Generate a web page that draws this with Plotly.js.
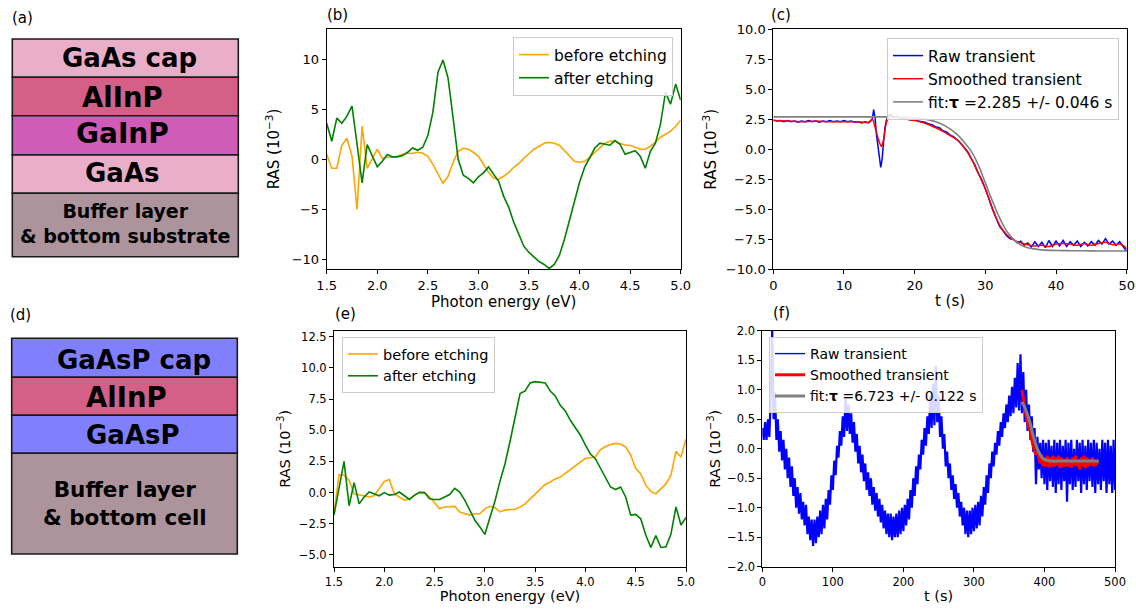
<!DOCTYPE html>
<html><head><meta charset="utf-8">
<script src="https://cdn.plot.ly/plotly-3.0.1.min.js"></script>
<style>html,body{margin:0;padding:0;background:#fff}#chart{width:1136px;height:610px}</style>
</head><body><div id="chart"></div>
<script>
// ---------------- DATA ----------------
const energy = [1.50,1.55,1.60,1.65,1.70,1.75,1.80,1.85,1.90,1.95,2.00,2.05,2.10,2.15,2.20,2.25,2.30,2.35,2.40,2.45,2.50,2.55,2.60,2.65,2.70,2.75,2.80,2.85,2.90,2.95,3.00,3.05,3.10,3.15,3.20,3.25,3.30,3.35,3.40,3.45,3.50,3.55,3.60,3.65,3.70,3.75,3.80,3.85,3.90,3.95,4.00,4.05,4.10,4.15,4.20,4.25,4.30,4.35,4.40,4.45,4.50,4.55,4.60,4.65,4.70,4.75,4.80,4.85,4.90,4.95,5.00];

// (b) GaAs cap sample
const bBefore = [0.5,-0.9,-0.9,1.4,2.1,0.3,-5.0,3.3,-0.9,0.0,1.0,0.1,0.2,0.2,0.3,0.5,0.6,0.6,0.7,0.6,0.3,-0.5,-1.5,-2.4,-1.7,-0.3,0.8,1.1,1.0,0.7,0.3,-0.5,-1.3,-1.9,-2.0,-1.7,-1.3,-0.8,-0.4,0.1,0.6,1.0,1.3,1.6,1.7,1.6,1.4,0.9,0.4,-0.2,-0.3,-0.2,0.2,0.7,1.2,1.6,1.8,1.8,1.6,1.4,1.4,1.2,1.0,1.0,1.3,1.7,2.2,2.5,2.8,3.3,3.9];
const bAfter = [3.6,1.8,4.1,3.6,4.3,5.3,1.5,-2.35,1.46,0.3,-0.76,-0.2,0.47,0.24,0.24,0.37,0.7,1.13,0.9,1.2,2.36,4.7,8.7,9.9,8.1,4.1,0.0,-1.6,-1.9,-2.35,-1.75,-1.35,-0.76,-1.5,-2.2,-3.7,-4.8,-6.3,-7.5,-8.7,-9.3,-9.8,-10.2,-10.5,-10.9,-10.5,-9.6,-8.0,-6.1,-4.3,-2.3,-0.8,0.2,1.1,1.6,1.5,1.4,1.86,1.5,0.5,0.7,0.85,0.3,-0.9,0.8,1.6,3.5,6.7,5.5,7.5,5.9];

// (e) GaAsP cap sample
const eBefore = [-1.7,1.45,1.4,1.0,-0.1,-0.2,-0.25,-0.35,-0.25,0.3,0.9,1.05,-0.1,-0.35,-0.6,-0.5,-0.25,0.05,0.0,-0.35,-0.8,-1.3,-1.15,-1.15,-1.1,-1.55,-1.7,-1.8,-1.7,-1.7,-1.3,-1.1,-1.2,-1.55,-1.4,-1.35,-1.33,-1.15,-0.9,-0.5,-0.1,0.3,0.65,0.85,1.1,1.25,1.55,1.85,2.1,2.45,2.75,2.8,2.9,3.45,3.7,3.85,3.95,3.9,3.65,3.0,1.95,1.5,0.6,0.1,-0.1,0.3,0.7,1.4,3.3,2.85,4.3];
const eAfter = [-1.8,0.3,2.5,-1.05,0.8,-0.9,-0.35,0.05,-0.1,-0.25,0.0,-0.2,-0.15,0.05,-0.25,-0.55,-0.2,0.0,0.0,-0.5,-0.55,-0.55,-0.35,-0.15,0.35,0.05,-0.6,-1.4,-2.2,-2.75,-3.35,-2.0,-0.7,0.9,2.3,4.1,6.0,7.95,8.15,8.8,8.9,8.85,8.8,8.15,7.75,7.0,6.55,5.8,5.25,4.6,3.8,3.1,2.7,1.95,1.15,0.45,0.25,0.45,-0.35,-1.8,-1.75,-2.1,-3.4,-4.4,-3.45,-4.4,-4.35,-3.35,-1.15,-2.6,-2.0];

// (c) transient, GaAs cap
const tRawC = [0,0.5,1,1.5,2,2.5,3,3.5,4,4.5,5,5.5,6,6.5,7,7.5,8,8.5,9,9.5,10,10.5,11,11.5,12,12.5,13,13.5,14,
  14.2,14.4,14.6,14.8,15,15.2,15.4,15.6,15.8,16,16.2,16.5,
  17,17.5,18,18.5,19,19.5,20,20.5,21,21.5,22,22.5,23,23.5,24,24.5,25,25.5,26,26.5,27,27.5,28,28.5,29,29.5,30,30.5,31,31.5,32,32.5,33,33.5,34,34.5,35,35.5,36,36.5,37,37.5,38,38.5,39,39.5,40,40.5,41,41.5,42,42.5,43,43.5,44,44.5,45,45.5,46,46.5,47,47.5,48,48.5,49,49.5,50];
const rawC = [2.45,2.35,2.4,2.3,2.4,2.3,2.35,2.25,2.35,2.3,2.4,2.3,2.35,2.25,2.35,2.3,2.4,2.3,2.35,2.3,2.4,2.3,2.35,2.25,2.3,2.2,2.3,2.2,2.5,
  3.3,2.6,1.2,0.3,-0.6,-1.5,-0.8,0.6,1.8,2.4,2.7,2.9,
  2.7,2.75,2.6,2.6,2.5,2.45,2.45,2.35,2.3,2.25,2.1,2.05,1.85,1.8,1.55,1.45,1.2,1.05,0.8,0.5,0.15,-0.2,-0.75,-1.3,-2.0,-2.55,-3.3,-4.1,-5.0,-5.7,-6.4,-6.8,-7.2,-7.45,-7.5,-7.8,-7.65,-8.0,-7.8,-8.15,-7.7,-8.1,-7.75,-8.2,-7.6,-8.1,-7.65,-8.05,-7.6,-8.1,-7.7,-8.0,-7.65,-8.1,-7.75,-8.05,-7.7,-8.0,-7.6,-7.9,-7.45,-7.9,-7.65,-8.0,-7.7,-8.1,-8.5];
const tSmC = [0,2,4,6,8,10,12,13.5,14,14.5,15,15.3,15.6,16,16.5,17,18,19,20,21,22,23,24,25,26,27,28,29,30,31,32,33,34,35,36,37,38,39,40,41,42,43,44,45,46,47,48,49,49.5,50];
const smC = [2.4,2.35,2.3,2.35,2.3,2.3,2.3,2.25,2.5,1.6,0.6,0.25,0.8,2.2,2.85,2.75,2.6,2.5,2.4,2.25,2.05,1.8,1.5,1.15,0.8,0.15,-0.75,-2.0,-3.3,-4.9,-6.3,-7.1,-7.55,-7.8,-7.95,-8.05,-8.0,-8.1,-7.9,-7.85,-7.9,-8.0,-7.85,-8.0,-7.85,-7.75,-7.95,-7.9,-8.0,-8.3];
const tFitC = [0,2,4,6,8,10,12,14,16,18,20,21,22,23,24,25,26,27,28,29,30,31,32,33,34,35,36,37,38,40,42,44,46,48,50];
const fitC = [2.7,2.7,2.7,2.7,2.7,2.7,2.7,2.7,2.7,2.68,2.62,2.55,2.45,2.3,2.05,1.7,1.25,0.6,-0.15,-1.3,-2.8,-4.3,-5.7,-6.8,-7.5,-7.95,-8.2,-8.3,-8.38,-8.43,-8.45,-8.46,-8.47,-8.47,-8.47];

// (f) transient, GaAsP cap
const tRawF = [0,2,4,6,8,10,12,14,16,18,20,22,24,26,28,30,32,34,36,38,40,42,44,46,48,
  50,52,54,56,58,60,62,64,66,68,70,72,74,76,78,80,82,84,86,88,90,92,94,96,98,
  100,102,104,106,108,110,112,114,116,118,120,122,124,126,128,130,132,134,136,138,140,142,144,146,148,
  150,152,154,156,158,160,162,164,166,168,170,172,174,176,178,180,182,184,186,188,190,192,194,196,198,
  200,202,204,206,208,210,212,214,216,218,220,222,224,226,228,230,232,234,236,238,240,242,244,246,248,
  250,252,254,256,258,260,262,264,266,268,270,272,274,276,278,280,282,284,286,288,290,292,294,296,298,
  300,302,304,306,308,310,312,314,316,318,320,322,324,326,328,330,332,334,336,338,340,342,344,346,348,
  350,352,354,356,358,360,362,364,366,368,370,372,374,376,378,380,382,384,386,388,390,392,394,396,398,
  400,402,404,406,408,410,412,414,416,418,420,422,424,426,428,430,432,434,436,438,440,442,444,446,448,
  450,452,454,456,458,460,462,464,466,468,470,472,474,476,478,480,482,484,486,488,490,492,494,496,498,500];
const rawF = [0.35,0.15,0.45,0.15,0.5,0.2,0.9,2.0,0.5,0.95,0.15,0.5,-0.05,0.3,-0.2,0.15,-0.35,0.0,-0.5,-0.15,-0.65,-0.3,-0.8,-0.5,-1.0,
  -0.65,-1.1,-0.75,-1.2,-0.9,-1.3,-0.95,-1.45,-1.15,-1.55,-1.2,-1.65,-1.2,-1.6,-1.15,-1.5,-1.05,-1.45,-0.95,-1.35,-0.85,-1.2,-0.7,-0.95,-0.45,
  -0.7,-0.2,-0.45,0.05,-0.15,0.3,0.05,0.55,0.2,0.85,0.3,0.75,0.25,0.6,0.1,0.45,-0.05,0.25,-0.25,0.05,-0.4,-0.1,-0.55,-0.25,-0.7,
  -0.4,-0.8,-0.5,-0.95,-0.65,-1.05,-0.75,-1.15,-0.85,-1.25,-0.95,-1.35,-1.05,-1.45,-1.1,-1.5,-1.1,-1.55,-1.15,-1.5,-1.1,-1.5,-1.05,-1.45,-1.0,
  -1.4,-0.95,-1.3,-0.85,-1.2,-0.7,-1.0,-0.5,-0.8,-0.3,-0.6,-0.1,-0.35,0.15,-0.1,0.35,0.05,0.55,0.25,0.9,0.35,1.1,0.4,1.4,0.45,
  0.9,0.2,0.55,0.0,0.25,-0.3,-0.05,-0.5,-0.25,-0.7,-0.45,-0.85,-0.6,-1.0,-0.75,-1.15,-0.9,-1.3,-1.0,-1.45,-1.05,-1.5,-1.05,-1.45,-1.0,
  -1.4,-0.95,-1.35,-0.9,-1.3,-0.8,-1.15,-0.65,-0.95,-0.45,-0.75,-0.25,-0.5,-0.05,-0.3,0.1,-0.1,0.3,0.05,0.45,0.2,0.6,0.35,0.75,0.45,
  0.9,0.55,1.05,0.6,1.2,0.7,1.45,0.65,1.6,0.6,1.3,0.45,1.0,0.3,0.75,0.15,0.55,-0.05,0.35,-0.6,0.2,-0.35,0.1,-0.5,0.15,
  -0.6,0.1,-0.7,0.15,-0.55,0.05,-0.65,0.15,-0.75,0.1,-0.6,0.15,-0.7,0.05,-0.55,0.15,-0.9,0.1,-0.6,0.15,-0.7,0.0,-0.65,0.15,-0.55,
  0.1,-0.75,0.15,-0.6,0.05,-0.7,0.15,-0.55,0.1,-0.65,0.15,-0.75,0.1,-0.6,0.0,-0.7,0.15,-0.55,0.1,-0.75,0.15,-0.6,0.05,-0.75,0.15,-0.7];
const tSmF = [368,370,372,374,376,378,380,382,384,386,388,390,392,394,396,398,400,402,404,406,408,410,412,414,416,418,420,422,424,426,428,430,432,434,436,438,440,442,444,446,448,450,452,454,456,458,460,462,464,466,468,470,472,474,476];
const smF = [1.0,0.85,0.7,0.55,0.45,0.35,0.3,0.15,0.05,-0.05,-0.1,-0.05,-0.15,-0.25,-0.1,-0.3,-0.15,-0.3,-0.12,-0.32,-0.15,-0.3,-0.12,-0.3,-0.15,-0.28,-0.12,-0.33,-0.15,-0.3,-0.18,-0.3,-0.15,-0.3,-0.2,-0.32,-0.15,-0.28,-0.12,-0.3,-0.2,-0.35,-0.15,-0.3,-0.12,-0.33,-0.15,-0.3,-0.18,-0.28,-0.15,-0.3,-0.2,-0.25,-0.22];
const tFitF = [368,372,376,380,384,388,392,396,400,405,410,420,440,460,477];
const fitF = [0.79,0.7,0.57,0.42,0.22,0.06,-0.06,-0.14,-0.18,-0.2,-0.21,-0.21,-0.21,-0.21,-0.21];

// legend / label texts
const seriesNames = ['before etching','after etching'];
const transNames = ['Raw transient','Smoothed transient'];
const fitLabelC = 'fit:<b>τ</b> =2.285 +/- 0.046 s';
const fitLabelF = 'fit:<b>τ</b> =6.723 +/- 0.122 s';
const rasTitle = 'RAS (10<sup>−3</sup>)';
const energyTitle = 'Photon energy (eV)';
const timeTitle = 't (s)';
const panelLabels = ['(a)','(b)','(c)','(d)','(e)','(f)'];

// layer stacks (top to bottom)
const stackA = ['GaAs cap','AlInP','GaInP','GaAs','Buffer layer<br>& bottom substrate'];
const stackD = ['GaAsP cap','AlInP','GaAsP','Buffer layer<br>& bottom cell'];

// ---------------- LAYOUT HELPERS ----------------
const W = 1136, H = 610, F = 'DejaVu Sans, Liberation Sans, sans-serif';
const fx = p => p / W, fy = p => 1 - p / H;
const colFilm = {gaas:'#EAAFC8', alinp:'#D45F87', gainp:'#D05CB8', buf:'#AD949C', gaasp:'#8080FF'};

function axis(dom, range, tickvals, fmt, anchor, fs, title, standoff, tsize) {
  return {
    domain: dom, range: range, anchor: anchor, autorange: false,
    showline: true, mirror: true, linecolor: '#000', linewidth: 1,
    ticks: 'outside', ticklen: 4, tickwidth: 1, tickcolor: '#000',
    showgrid: false, zeroline: false,
    tickmode: 'array', tickvals: tickvals, tickformat: fmt,
    tickfont: {family: F, size: fs, color: '#000'},
    title: {text: title, font: {family: F, size: tsize, color: '#000'}, standoff: standoff},
    automargin: false, fixedrange: true
  };
}

const traces = [
  {x: energy, y: bBefore, name: seriesNames[0], type: 'scatter', mode: 'lines', line: {color: '#FFA500', width: 1.6}, xaxis: 'x', yaxis: 'y', legend: 'legend'},
  {x: energy, y: bAfter, name: seriesNames[1], type: 'scatter', mode: 'lines', line: {color: '#008000', width: 1.6}, xaxis: 'x', yaxis: 'y', legend: 'legend'},
  {x: tRawC, y: rawC, name: transNames[0], type: 'scatter', mode: 'lines', line: {color: '#0000FF', width: 1.5, simplify: false}, xaxis: 'x2', yaxis: 'y2', legend: 'legend2'},
  {x: tSmC, y: smC, name: transNames[1], type: 'scatter', mode: 'lines', line: {color: '#FF0000', width: 1.5, shape: 'spline', simplify: false}, xaxis: 'x2', yaxis: 'y2', legend: 'legend2'},
  {x: tFitC, y: fitC, name: fitLabelC, type: 'scatter', mode: 'lines', line: {color: '#808080', width: 1.6, shape: 'spline'}, xaxis: 'x2', yaxis: 'y2', legend: 'legend2'},
  {x: energy, y: eBefore, name: seriesNames[0], type: 'scatter', mode: 'lines', line: {color: '#FFA500', width: 1.6}, xaxis: 'x3', yaxis: 'y3', legend: 'legend3'},
  {x: energy, y: eAfter, name: seriesNames[1], type: 'scatter', mode: 'lines', line: {color: '#008000', width: 1.6}, xaxis: 'x3', yaxis: 'y3', legend: 'legend3'},
  // legend-only entry (thin line) for the raw transient of panel (f)
  {x: [null], y: [null], name: transNames[0], type: 'scatter', mode: 'lines', line: {color: '#0000FF', width: 1.4}, xaxis: 'x4', yaxis: 'y4', legend: 'legend4', hoverinfo: 'skip'},
  {x: tRawF, y: rawF, name: transNames[0], type: 'scatter', mode: 'lines', line: {color: '#0000FF', width: 2.2, simplify: false}, xaxis: 'x4', yaxis: 'y4', showlegend: false},
  {x: tSmF, y: smF, name: transNames[1], type: 'scatter', mode: 'lines', line: {color: '#FF0000', width: 3, simplify: false}, xaxis: 'x4', yaxis: 'y4', legend: 'legend4'},
  {x: tFitF, y: fitF, name: fitLabelF, type: 'scatter', mode: 'lines', line: {color: '#808080', width: 3, shape: 'spline'}, xaxis: 'x4', yaxis: 'y4', legend: 'legend4'}
];

// stack geometry (pixels)
const geomA = {x0: 12.3, x1: 238.3, ys: [39, 77.3, 115.7, 155, 193.3, 256.7],
  fills: [colFilm.gaas, colFilm.alinp, colFilm.gainp, colFilm.gaas, colFilm.buf],
  tx: [129, 122.5, 122.5, 122, 125], ty: [58, 97, 134, 173, 223], fs: [26, 27.5, 28, 26, 19]};
const geomD = {x0: 11.7, x1: 237.3, ys: [338.3, 377.3, 415.3, 453.3, 554],
  fills: [colFilm.gaasp, colFilm.alinp, colFilm.gaasp, colFilm.buf],
  tx: [134, 126, 133, 124.5], ty: [360, 397, 435, 503], fs: [26, 27.5, 26, 21.5]};

const shapes = [], annotations = [];
function addStack(names, g) {
  names.forEach((n, i) => {
    shapes.push({type: 'rect', xref: 'paper', yref: 'paper', x0: fx(g.x0), x1: fx(g.x1), y0: fy(g.ys[i + 1]), y1: fy(g.ys[i]),
      fillcolor: g.fills[i], line: {color: '#1a1a1a', width: 1.6}});
    annotations.push({xref: 'paper', yref: 'paper', x: fx(g.tx[i]), y: fy(g.ty[i]), xanchor: 'center', yanchor: 'middle',
      text: '<b>' + n + '</b>', showarrow: false, font: {family: F, size: g.fs[i], color: '#000'}});
  });
}
addStack(stackA, geomA);
addStack(stackD, geomD);

const labelPos = [[22, 18], [337, 15], [781, 15], [20, 315], [345, 314], [781, 313]];
panelLabels.forEach((t, i) => annotations.push({xref: 'paper', yref: 'paper', x: fx(labelPos[i][0]), y: fy(labelPos[i][1]),
  xanchor: 'center', yanchor: 'middle', text: t, showarrow: false, font: {family: F, size: 15, color: '#000'}}));

const legBase = {bgcolor: 'rgba(255,255,255,0.85)', bordercolor: '#cccccc', borderwidth: 1, xref: 'paper', yref: 'paper', itemclick: false, itemdoubleclick: false};

const layout = {
  width: W, height: H, margin: {l: 0, r: 0, t: 0, b: 0}, paper_bgcolor: '#fff', plot_bgcolor: '#fff',
  showlegend: true, font: {family: F, color: '#000'},
  xaxis: axis([fx(326.7), fx(680.7)], [1.5, 5.0], [1.5,2.0,2.5,3.0,3.5,4.0,4.5,5.0], '.1f', 'y', 13, energyTitle, 3, 15),
  yaxis: axis([fy(269), fy(29)], [-10.95, 13.0], [-10,-5,0,5,10], 'd', 'x', 13, rasTitle, 8, 15),
  xaxis2: axis([fx(773.3), fx(1126.7)], [0, 50], [0,10,20,30,40,50], 'd', 'y2', 13, timeTitle, 3, 15),
  yaxis2: axis([fy(269.3), fy(29.3)], [-10, 10], [-10,-7.5,-5,-2.5,0,2.5,5,7.5,10], '.1f', 'x2', 13, rasTitle, 5, 15),
  xaxis3: axis([fx(334), fx(686)], [1.5, 5.0], [1.5,2.0,2.5,3.0,3.5,4.0,4.5,5.0], '.1f', 'y3', 11.5, energyTitle, 3, 14.5),
  yaxis3: axis([fy(566.7), fy(331)], [-5.94, 12.96], [-5,-2.5,0,2.5,5,7.5,10,12.5], '.1f', 'x3', 11.5, rasTitle, 4, 14.5),
  xaxis4: axis([fx(762.3), fx(1115)], [0, 500], [0,100,200,300,400,500], 'd', 'y4', 11.5, timeTitle, 3, 14.5),
  yaxis4: axis([fy(566.7), fy(330.7)], [-2, 2], [-2,-1.5,-1,-0.5,0,0.5,1,1.5,2], '.1f', 'x4', 11.5, rasTitle, 2, 14.5),
  legend: Object.assign({}, legBase, {x: fx(673), y: fy(37), xanchor: 'right', yanchor: 'top', font: {family: F, size: 15.5, color: '#000'}}),
  legend2: Object.assign({}, legBase, {x: fx(1119), y: fy(38), xanchor: 'right', yanchor: 'top', font: {family: F, size: 15.5, color: '#000'}}),
  legend3: Object.assign({}, legBase, {x: fx(342), y: fy(337), xanchor: 'left', yanchor: 'top', font: {family: F, size: 14.5, color: '#000'}}),
  legend4: Object.assign({}, legBase, {x: fx(769), y: fy(337), xanchor: 'left', yanchor: 'top', font: {family: F, size: 14, color: '#000'}}),
  shapes: shapes, annotations: annotations
};

Plotly.newPlot('chart', traces, layout, {staticPlot: true, displayModeBar: false});
</script></body></html>
